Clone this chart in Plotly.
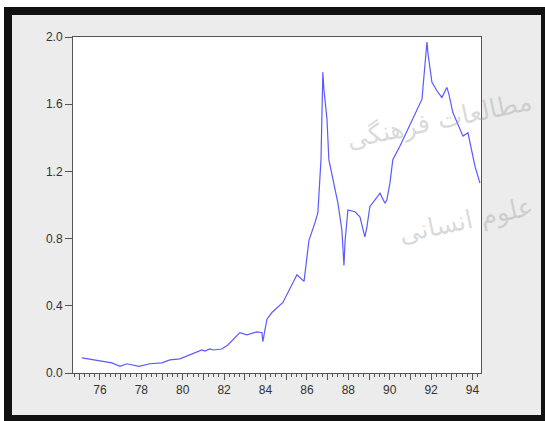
import plotly.graph_objects as go

# Data (decimal year, value)
years = [75.13, 76.14, 76.58, 76.97, 77.30, 77.88, 78.42, 79.00, 79.38, 79.86,
         80.35, 80.93, 81.07, 81.31, 81.46, 81.89, 82.18, 82.76, 83.10, 83.58,
         83.83, 83.87, 84.07, 84.31, 84.84, 85.18, 85.52, 85.86, 86.00, 86.10,
         86.39, 86.53, 86.68, 86.72, 86.77, 86.82, 86.97, 87.06, 87.26, 87.50,
         87.69, 87.79, 87.84, 87.98, 88.32, 88.56, 88.80, 88.90, 89.04, 89.28,
         89.53, 89.77, 89.86, 90.01, 90.15, 90.49, 91.56, 91.65, 91.80, 91.85,
         91.94, 92.04, 92.28, 92.52, 92.76, 92.86, 93.05, 93.29, 93.54, 93.78,
         93.97, 94.12, 94.36]
values = [0.09, 0.066, 0.06, 0.04, 0.055, 0.04, 0.055, 0.06, 0.078, 0.084,
          0.11, 0.137, 0.13, 0.143, 0.137, 0.143, 0.167, 0.24, 0.227, 0.245,
          0.24, 0.187, 0.32, 0.36, 0.42, 0.50, 0.585, 0.545, 0.675, 0.79,
          0.895, 0.955, 1.27, 1.53, 1.79, 1.69, 1.51, 1.27, 1.15, 1.01,
          0.85, 0.64, 0.78, 0.97, 0.96, 0.93, 0.81, 0.87, 0.99, 1.03,
          1.07, 1.01, 1.03, 1.13, 1.27, 1.35, 1.63, 1.76, 1.97, 1.90,
          1.83, 1.73, 1.68, 1.64, 1.70, 1.66, 1.55, 1.48, 1.41, 1.43,
          1.31, 1.23, 1.13]

x_tick_vals = list(range(75, 95))
x_tick_text = [str(v) if v % 2 == 0 else "" for v in x_tick_vals]
y_tick_vals = [0.0, 0.4, 0.8, 1.2, 1.6, 2.0]
y_tick_text = ["0.0", "0.4", "0.8", "1.2", "1.6", "2.0"]

W, H = 545, 421
L, R, T, B = 73, 481, 37, 373


def px(x):
    return (x - L) / (R - L)


def py(y):
    return (B - y) / (B - T)


fig = go.Figure()
fig.add_trace(go.Scatter(x=years, y=values, mode="lines",
                         line=dict(color="#5a5aff", width=1.2),
                         hoverinfo="skip", showlegend=False))

shapes = [
    # black frame
    dict(type="rect", xref="paper", yref="paper", layer="below",
         x0=px(4), x1=px(545), y0=py(7), y1=py(421),
         fillcolor="#111111", line=dict(width=0)),
    # gray inner panel
    dict(type="rect", xref="paper", yref="paper", layer="below",
         x0=px(12), x1=px(541), y0=py(15), y1=py(415),
         fillcolor="#ececec", line=dict(width=0)),
    # white plot area
    dict(type="rect", xref="paper", yref="paper", layer="below",
         x0=0, x1=1, y0=0, y1=1,
         fillcolor="white", line=dict(width=0)),
]

annotations = [
    dict(text="مطالعات فرهنگی", xref="paper", yref="paper",
         x=px(538), y=py(120), xanchor="right", yanchor="middle",
         showarrow=False, textangle=-12,
         font=dict(family="DejaVu Sans", size=26, color="rgba(150,150,150,0.35)")),
    dict(text="علوم انسانی", xref="paper", yref="paper",
         x=px(538), y=py(220), xanchor="right", yanchor="middle",
         showarrow=False, textangle=-12,
         font=dict(family="DejaVu Sans", size=26, color="rgba(150,150,150,0.35)")),
]

fig.update_layout(
    width=W, height=H,
    margin=dict(l=L, r=W - R, t=T, b=H - B, pad=0),
    paper_bgcolor="white",
    plot_bgcolor="white",
    shapes=shapes,
    annotations=annotations,
    font=dict(family="Liberation Sans, Arial, sans-serif", size=12, color="#333333"),
    xaxis=dict(range=[74.70, 94.41], tickmode="array", tickvals=x_tick_vals,
               ticktext=x_tick_text, ticks="outside", ticklen=6, tickwidth=1,
               tickcolor="#555555", showgrid=False, zeroline=False,
               showline=True, linecolor="#555555", linewidth=1, mirror=True,
               minor=dict(dtick=0.25, tick0=75, ticks="outside", ticklen=3,
                          tickcolor="#555555", showgrid=False),
               tickfont=dict(size=12, color="#333333")),
    yaxis=dict(range=[0, 2.0], tickmode="array", tickvals=y_tick_vals,
               ticktext=y_tick_text, ticks="outside", ticklen=7, tickwidth=1,
               tickcolor="#555555", showgrid=False, zeroline=False,
               showline=True, linecolor="#555555", linewidth=1, mirror=True,
               tickfont=dict(size=12, color="#333333")),
)

fig.write_html(
    "out.html",
    config={"displayModeBar": False},
    post_script="document.body.style.margin='0';document.body.style.overflow='hidden';",
)
